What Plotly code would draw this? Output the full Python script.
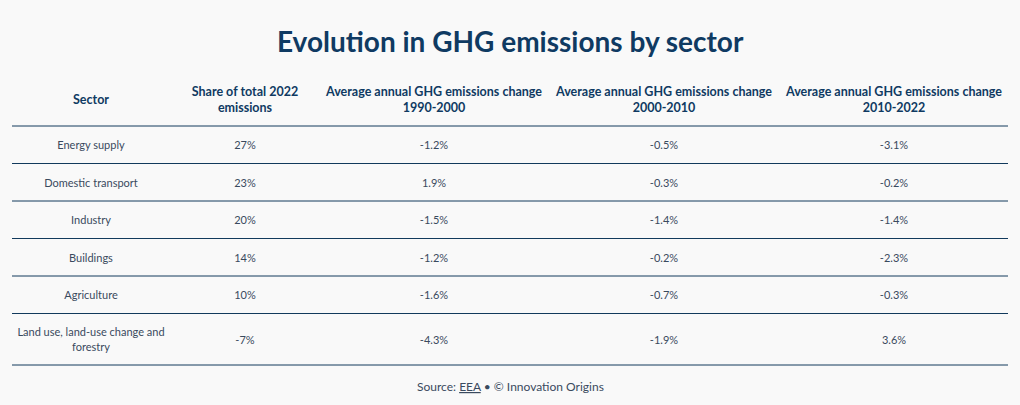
import plotly.graph_objects as go

sectors = ["Energy supply", "Domestic transport", "Industry", "Buildings", "Agriculture",
           "Land use, land-use change and<br>forestry"]
share_2022 = ["27%", "23%", "20%", "14%", "10%", "-7%"]
change_1990_2000 = ["-1.2%", "1.9%", "-1.5%", "-1.2%", "-1.6%", "-4.3%"]
change_2000_2010 = ["-0.5%", "-0.3%", "-1.4%", "-0.2%", "-0.7%", "-1.9%"]
change_2010_2022 = ["-3.1%", "-0.2%", "-1.4%", "-2.3%", "-0.3%", "3.6%"]
headers = ["Sector", "Share of total 2022<br>emissions",
           "Average annual GHG emissions change<br>1990-2000",
           "Average annual GHG emissions change<br>2000-2010",
           "Average annual GHG emissions change<br>2010-2022"]

BG = "#f9f9f9"
NAVY = "#0f3a62"
LINE = "#123a5c"
BODY = "#3a4a5e"
FONT = "Source Sans Pro, Lato, Noto Sans, sans-serif"
W, H = 1020, 405

# layout geometry (pixel units on the axes)
col_x = [91, 245, 434, 664, 894]
header_y = 100.5
row_lines = [126, 163.5, 201, 238.5, 276, 313.5, 365]
row_y = [(a + b) / 2 + 1.5 for a, b in zip(row_lines[:-1], row_lines[1:])]

columns = [sectors, share_2022, change_1990_2000, change_2000_2010, change_2010_2022]

fig = go.Figure()
# header
fig.add_trace(go.Scatter(
    x=col_x, y=[header_y] * len(col_x), mode="text",
    text=[f"<b>{h}</b>" for h in headers], textposition="middle center",
    textfont=dict(family=FONT, size=12.5, color=NAVY), hoverinfo="skip", showlegend=False))
# body cells, one trace per column
for cx, vals in zip(col_x, columns):
    fig.add_trace(go.Scatter(
        x=[cx] * len(vals), y=row_y, mode="text", text=vals, textposition="middle center",
        textfont=dict(family=FONT, size=11, color=BODY), hoverinfo="skip", showlegend=False))

for yp in row_lines:
    fig.add_shape(type="line", xref="x", yref="y", x0=12, x1=1008, y0=yp, y1=yp,
                  line=dict(color=LINE, width=1), layer="below")

fig.add_annotation(text="<b>Evolution in GHG emissions by sector</b>", xref="x", yref="y",
                   x=510, y=41, showarrow=False, xanchor="center", yanchor="middle",
                   font=dict(family=FONT, size=28, color=NAVY))
fig.add_annotation(text="Source: <u>EEA</u> • © Innovation Origins", xref="x", yref="y",
                   x=510, y=386.5, showarrow=False, xanchor="center", yanchor="middle",
                   font=dict(family=FONT, size=12, color=BODY))

fig.update_xaxes(range=[0, W], visible=False, fixedrange=True)
fig.update_yaxes(range=[H, 0], visible=False, fixedrange=True)
fig.update_layout(width=W, height=H, margin=dict(l=0, r=0, t=0, b=0),
                  paper_bgcolor=BG, plot_bgcolor=BG)
fig.write_html("out.html", config={"displayModeBar": False},
               post_script="document.body.style.margin='0';document.body.style.background='%s';" % BG)
